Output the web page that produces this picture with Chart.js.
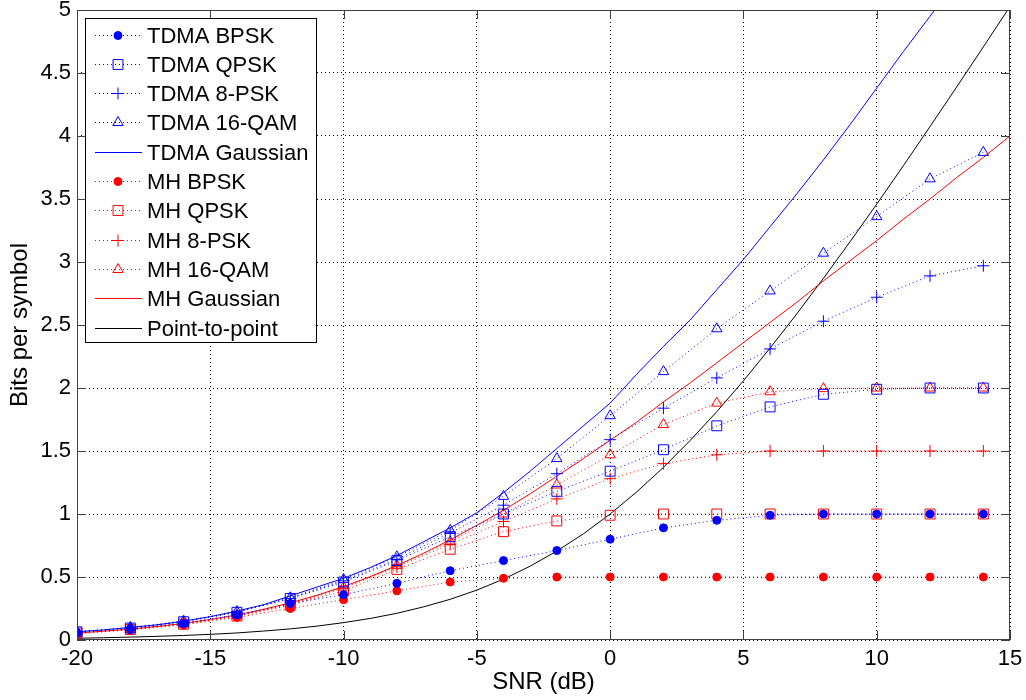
<!DOCTYPE html>
<html>
<head>
<meta charset="utf-8">
<script src="https://cdn.jsdelivr.net/npm/chart.js@4.4.1/dist/chart.umd.min.js"></script>
<style>
  html, body { margin: 0; padding: 0; background: #fff; }
  #wrap { width: 1026px; height: 700px; }
</style>
</head>
<body>
<div id="wrap"><canvas id="rateChart" width="1026" height="700"></canvas></div>
<script>
// SNR points (dB) where the modulation curves are sampled
const snrMarkers = [-20, -18, -16, -14, -12, -10, -8, -6, -4, -2, 0, 2, 4, 6, 8, 10, 12, 14];
// SNR points for the Gaussian / point-to-point curves
const snrFine = [-20, -19, -18, -17, -16, -15, -14, -13, -12, -11, -10, -9, -8, -7, -6, -5, -4, -3,
                 -2, -1, 0, 1, 2, 3, 4, 5, 6, 7, 8, 9, 10, 11, 12, 13, 14, 15];

const tdmaBpsk  = [0.06, 0.09, 0.13, 0.20, 0.29, 0.36, 0.45, 0.55, 0.63, 0.71, 0.80, 0.89, 0.95, 0.99, 1.0, 1.0, 1.0, 1.0];
const tdmaQpsk  = [0.065, 0.095, 0.145, 0.22, 0.33, 0.46, 0.63, 0.82, 1.0, 1.18, 1.34, 1.51, 1.70, 1.85, 1.95, 1.99, 2.0, 2.0];
const tdma8psk  = [0.065, 0.095, 0.145, 0.22, 0.33, 0.47, 0.64, 0.85, 1.07, 1.32, 1.59, 1.84, 2.08, 2.31, 2.53, 2.72, 2.89, 2.97];
const tdma16qam = [0.065, 0.10, 0.15, 0.225, 0.335, 0.48, 0.66, 0.87, 1.14, 1.44, 1.78, 2.13, 2.47, 2.77, 3.07, 3.36, 3.66, 3.87];
const mhBpsk    = [0.05, 0.08, 0.12, 0.18, 0.25, 0.32, 0.39, 0.46, 0.49, 0.50, 0.50, 0.50, 0.50, 0.50, 0.50, 0.50, 0.50, 0.50];
const mhQpsk    = [0.055, 0.083, 0.125, 0.19, 0.275, 0.39, 0.56, 0.72, 0.86, 0.945, 0.99, 1.0, 1.0, 1.0, 1.0, 1.0, 1.0, 1.0];
const mh8psk    = [0.055, 0.085, 0.13, 0.19, 0.28, 0.41, 0.58, 0.76, 0.94, 1.12, 1.28, 1.40, 1.47, 1.50, 1.50, 1.50, 1.50, 1.50];
const mh16qam   = [0.055, 0.085, 0.13, 0.195, 0.285, 0.42, 0.59, 0.78, 1.0, 1.23, 1.47, 1.71, 1.88, 1.97, 1.995, 2.0, 2.0, 2.0];

const tdmaGauss = [0.065, 0.08, 0.10, 0.12, 0.15, 0.185, 0.23, 0.28, 0.35, 0.42, 0.49, 0.575, 0.67, 0.78, 0.89, 1.01, 1.17, 1.34,
                   1.52, 1.70, 1.88, 2.11, 2.33, 2.54, 2.78, 3.02, 3.28, 3.54, 3.81, 4.09, 4.38, 4.67, 4.95, 5.24, 5.53, 5.82];
const mhGauss   = [0.055, 0.07, 0.086, 0.107, 0.132, 0.163, 0.199, 0.243, 0.295, 0.355, 0.424, 0.503, 0.591, 0.688, 0.795, 0.91, 1.03, 1.16,
                   1.30, 1.44, 1.585, 1.73, 1.89, 2.04, 2.20, 2.36, 2.52, 2.68, 2.85, 3.01, 3.17, 3.34, 3.50, 3.67, 3.83, 4.0];
const p2p       = [0.014, 0.018, 0.023, 0.029, 0.036, 0.045, 0.056, 0.071, 0.088, 0.110, 0.138, 0.171, 0.212, 0.263, 0.323, 0.396, 0.483, 0.586,
                   0.706, 0.843, 1.0, 1.176, 1.37, 1.583, 1.812, 2.057, 2.317, 2.588, 2.87, 3.161, 3.459, 3.764, 4.075, 4.389, 4.707, 5.028];

const xTicks = [-20, -15, -10, -5, 0, 5, 10, 15];
const yTicks = [0, 0.5, 1, 1.5, 2, 2.5, 3, 3.5, 4, 4.5, 5];

const FONT = '"Liberation Sans", Arial, sans-serif';
const BLUE = '#0000ff', RED = '#ff0000';

function pts(xs, ys) {
    return xs.map((x, i) => ({x: x, y: ys[i]}));
}

function marked(label, ys, color, style, radius, filled) {
    return {
        label: label,
        data: pts(snrMarkers, ys),
        borderColor: color,
        backgroundColor: filled ? color : 'rgba(0,0,0,0)',
        borderWidth: 1,
        borderDash: [1, 3],
        pointStyle: style,
        pointRadius: radius,
        pointBorderWidth: 1,
        pointBorderColor: color,
        pointBackgroundColor: filled ? color : 'rgba(0,0,0,0)',
        pointHoverRadius: radius,
        fill: false
    };
}

function solid(label, ys, color) {
    return {
        label: label,
        data: pts(snrFine, ys),
        borderColor: color,
        backgroundColor: color,
        borderWidth: 1,
        pointRadius: 0,
        pointStyle: false,
        fill: false
    };
}

const datasets = [
    marked('TDMA BPSK', tdmaBpsk, BLUE, 'circle', 4, true),
    marked('TDMA QPSK', tdmaQpsk, BLUE, 'rect', 7, false),
    marked('TDMA 8-PSK', tdma8psk, BLUE, 'cross', 6, false),
    marked('TDMA 16-QAM', tdma16qam, BLUE, 'triangle', 6, false),
    solid('TDMA Gaussian', tdmaGauss, BLUE),
    marked('MH BPSK', mhBpsk, RED, 'circle', 4, true),
    marked('MH QPSK', mhQpsk, RED, 'rect', 7, false),
    marked('MH 8-PSK', mh8psk, RED, 'cross', 6, false),
    marked('MH 16-QAM', mh16qam, RED, 'triangle', 6, false),
    solid('MH Gaussian', mhGauss, RED),
    solid('Point-to-point', p2p, '#000000')
];

// box around the axes with inward ticks, like a matlab figure
const framePlugin = {
    id: 'frame',
    afterDatasetsDraw(chart) {
        const {ctx, chartArea: a, scales} = chart;
        ctx.save();
        ctx.strokeStyle = '#404040';
        ctx.lineWidth = 1;
        ctx.setLineDash([]);
        ctx.strokeRect(a.left + 0.5, a.top + 0.5, a.right - a.left - 1, a.bottom - a.top - 1);
        ctx.beginPath();
        xTicks.forEach(v => {
            const px = Math.round(scales.x.getPixelForValue(v)) + 0.5;
            ctx.moveTo(px, a.bottom); ctx.lineTo(px, a.bottom - 9);
            ctx.moveTo(px, a.top); ctx.lineTo(px, a.top + 9);
        });
        yTicks.forEach(v => {
            const py = Math.round(scales.y.getPixelForValue(v)) + 0.5;
            ctx.moveTo(a.left, py); ctx.lineTo(a.left + 9, py);
            ctx.moveTo(a.right, py); ctx.lineTo(a.right - 9, py);
        });
        ctx.stroke();
        ctx.restore();
    },
    afterDraw(chart) {
        const ctx = chart.ctx;
        const bx = 85, by = 18, bw = 231, bh = 324;
        ctx.save();
        ctx.fillStyle = '#fff';
        ctx.fillRect(bx, by, bw, bh);
        ctx.strokeStyle = '#000';
        ctx.lineWidth = 1;
        ctx.strokeRect(bx + 0.5, by + 0.5, bw, bh);
        chart.data.datasets.forEach((ds, i) => {
            const y = Math.round(by + 16.5 + i * 29.3) + 0.5;
            ctx.strokeStyle = ds.borderColor;
            ctx.setLineDash(ds.borderDash || []);
            ctx.beginPath();
            ctx.moveTo(95, y);
            ctx.lineTo(142, y);
            ctx.stroke();
            ctx.setLineDash([]);
            if (ds.pointRadius > 0) {
                ctx.fillStyle = ds.pointBackgroundColor;
                ctx.strokeStyle = ds.pointBorderColor;
                Chart.helpers.drawPoint(ctx, {
                    pointStyle: ds.pointStyle,
                    radius: ds.pointRadius,
                    borderWidth: 1,
                    rotation: 0
                }, 118, y);
            }
            ctx.fillStyle = '#000';
            ctx.font = '22px ' + FONT;
            ctx.textAlign = 'left';
            ctx.textBaseline = 'middle';
            ctx.fillText(ds.label, 147, y + 1);
        });
        ctx.restore();
    }
};

Chart.defaults.color = '#000';
Chart.defaults.font.family = FONT;

const ctx = document.getElementById('rateChart').getContext('2d');
const rateChart = new Chart(ctx, {
    type: 'line',
    data: {datasets: datasets},
    options: {
        responsive: false,
        animation: false,
        devicePixelRatio: 1,
        layout: {padding: {top: 10, right: 16, left: 0, bottom: 0}},
        plugins: {
            legend: {display: false},
            tooltip: {enabled: false}
        },
        scales: {
            x: {
                type: 'linear',
                min: -20,
                max: 15,
                afterFit: s => { s.height = 60; s.paddingLeft = 0; s.paddingRight = 0; },
                afterBuildTicks: s => { s.ticks = xTicks.map(v => ({value: v})); },
                ticks: {font: {size: 22}, padding: 6, maxRotation: 0, callback: v => String(v)},
                grid: {color: '#000', lineWidth: 1, drawTicks: false},
                border: {display: false, dash: [1, 3]},
                title: {display: true, text: 'SNR (dB)', font: {size: 24}, padding: {top: 0, bottom: 3}}
            },
            y: {
                type: 'linear',
                min: 0,
                max: 5,
                afterFit: s => { s.width = 77; s.paddingTop = 0; s.paddingBottom = 0; },
                afterBuildTicks: s => { s.ticks = yTicks.map(v => ({value: v})); },
                ticks: {font: {size: 22}, padding: 6, callback: v => String(v)},
                grid: {color: '#000', lineWidth: 1, drawTicks: false},
                border: {display: false, dash: [1, 3]},
                title: {display: true, text: 'Bits per symbol', font: {size: 24}, padding: {top: 6, bottom: 0}}
            }
        }
    },
    plugins: [framePlugin]
});
</script>
</body>
</html>
